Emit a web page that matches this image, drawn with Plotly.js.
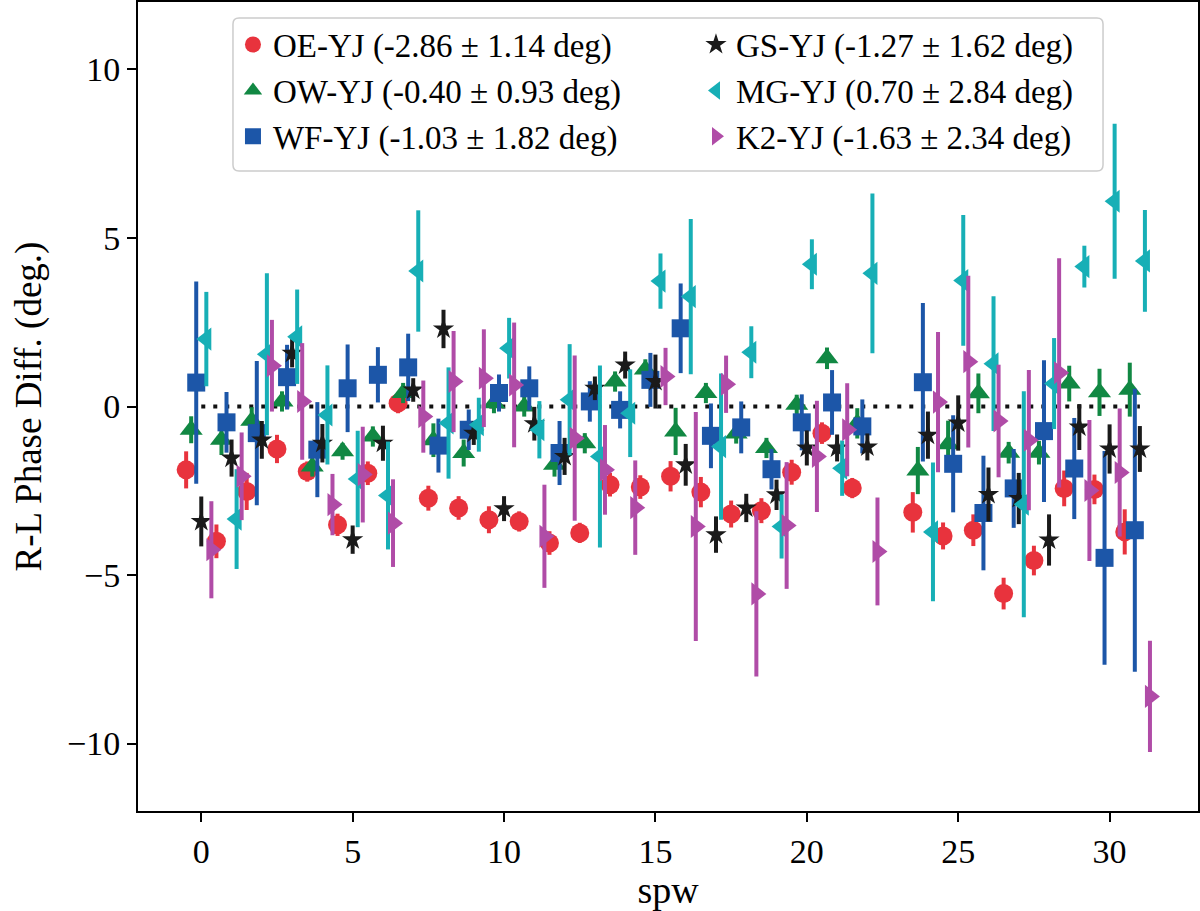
<!DOCTYPE html>
<html>
<head>
<meta charset="utf-8">
<script src="https://cdn.plot.ly/plotly-3.0.1.min.js"></script>
<style>
  html, body { margin: 0; padding: 0; background: #fff; }
  #phase-graph { width: 1200px; height: 911px; }
</style>
</head>
<body>
<div id="phase-graph"></div>
<script>
// spectral windows that have data (spw 23 is missing)
const spw = [0, 1, 2, 3, 4, 5, 6, 7, 8, 9, 10, 11, 12, 13, 14, 15, 16, 17, 18, 19, 20, 21, 22,
  24, 25, 26, 27, 28, 29, 30, 31];

// R-L phase differences (deg) and 1-sigma errors
const oeVals = [-1.88, -4.0, -2.52, -1.26, -1.93, -3.51, -1.98, 0.1, -2.72, -3.01, -3.36, -3.41, -4.05, -3.75, -2.32, -2.39,
  -2.07, -2.54, -3.19, -3.09, -1.95, -0.79, -2.42, -3.14, -3.84, -3.67, -5.55, -4.57, -2.43, -2.46, -3.72];
const oeErrs = [0.55, 0.5, 0.55, 0.42, 0.3, 0.33, 0.35, 0.3, 0.37, 0.35, 0.4, 0.3, 0.35, 0.3, 0.35, 0.35,
  0.45, 0.45, 0.4, 0.37, 0.37, 0.32, 0.3, 0.6, 0.4, 0.47, 0.47, 0.44, 0.53, 0.44, 0.67];

const owVals = [-0.69, -0.99, -0.42, 0.15, -1.78, -1.33, -0.89, 0.4, -1.0, -1.38, 0.1, 0.0, -1.73, -1.09, 0.74, 1.1,
  -0.74, 0.4, -0.8, -1.23, 0.05, 1.43, -0.5, -1.9, -1.12, 0.39, -1.37, -1.37, 0.68, 0.42, 0.5];
const owErrs = [0.4, 0.45, 0.4, 0.3, 0.3, 0.25, 0.3, 0.3, 0.5, 0.4, 0.3, 0.3, 0.35, 0.3, 0.3, 0.3,
  0.7, 0.3, 0.3, 0.3, 0.3, 0.32, 0.45, 0.7, 0.7, 0.59, 0.32, 0.35, 0.53, 0.7, 0.8];

const wfVals = [0.71, -0.47, -0.79, 0.87, -1.28, 0.54, 0.94, 1.16, -1.16, -0.69, 0.4, 0.54, -1.38, 0.15, -0.1, 0.79,
  2.32, -0.87, -0.62, -1.86, -0.47, 0.12, -0.59, 0.72, -1.7, -3.16, -2.43, -0.73, -1.84, -4.49, -3.67];
const wfErrs = [3.0, 0.9, 2.14, 0.96, 1.41, 1.3, 0.82, 1.0, 0.8, 0.6, 0.55, 0.65, 0.95, 0.6, 0.55, 0.8,
  1.33, 0.96, 0.77, 0.6, 0.83, 0.96, 0.8, 2.35, 1.44, 1.7, 1.17, 2.1, 1.5, 3.17, 4.2];

const gsVals = [-3.41, -1.53, -0.99, 1.58, -1.09, -3.95, -1.09, 0.49, 2.3, -0.79, -3.03, -0.51, -1.48, 0.54, 1.23, 0.74,
  -1.73, -3.8, -3.01, -2.62, -1.23, -1.23, -1.2, -0.85, -0.49, -2.61, -2.73, -3.96, -0.61, -1.26, -1.26];
const gsErrs = [0.74, 0.55, 0.56, 0.42, 0.57, 0.42, 0.52, 0.35, 0.57, 0.35, 0.37, 0.5, 0.55, 0.35, 0.4, 0.8,
  0.62, 0.54, 0.42, 0.45, 0.52, 0.4, 0.4, 0.7, 0.82, 0.8, 0.76, 0.76, 0.68, 0.73, 0.68];

const mgVals = [2.0, -3.34, 1.55, 2.07, -0.25, -2.15, -2.64, 4.02, -0.49, -0.54, 1.73, -0.69, 0.2, -1.48, -0.2, 3.72,
  3.26, -1.19, 1.61, -3.56, 4.22, -1.83, 3.95, -3.72, 3.74, 1.27, -2.9, 0.68, 4.15, 6.09, 4.32];
const mgErrs = [1.4, 1.48, 2.4, 1.4, 1.47, 1.43, 1.6, 1.8, 1.65, 0.8, 0.9, 0.85, 1.65, 2.7, 1.3, 0.82,
  2.3, 2.17, 0.77, 0.95, 0.74, 0.82, 2.37, 2.06, 1.94, 2.0, 3.35, 1.35, 0.62, 2.3, 1.51];

const k2Vals = [-4.25, -2.07, 1.21, 0.15, -2.91, -2.02, -3.46, -0.3, 0.74, 0.84, 0.64, -3.85, -0.94, -1.88, -3.0, 0.89,
  -3.56, 0.66, -5.56, -3.53, -1.48, -0.69, -4.3, 0.13, 1.33, -0.43, -1.0, 1.0, -2.49, -1.96, -8.6];
const k2Errs = [1.44, 1.3, 1.36, 1.73, 0.91, 1.42, 1.3, 1.07, 1.5, 1.45, 1.85, 1.53, 2.45, 1.33, 1.4, 0.85,
  3.4, 0.85, 2.45, 1.88, 1.65, 1.38, 1.6, 2.08, 2.55, 1.67, 2.08, 3.4, 2.09, 1.9, 1.65];

const legendText = [
  'OE-YJ (-2.86 ± 1.14 deg)', 'OW-YJ (-0.40 ± 0.93 deg)', 'WF-YJ (-1.03 ± 1.82 deg)',
  'GS-YJ (-1.27 ± 1.62 deg)', 'MG-YJ (0.70 ± 2.84 deg)', 'K2-YJ (-1.63 ± 2.34 deg)',
];

const FONT = '"Liberation Serif", "DejaVu Serif", serif';

// one entry per baseline; dx dodges the points around each spw
const series = [
  {vals: oeVals, errs: oeErrs, dx: -0.5, color: '#e8333d', symbol: 'circle', size: 19, rank: 1},
  {vals: owVals, errs: owErrs, dx: -1 / 3, color: '#118843', symbol: 'triangle-up', size: 20, rank: 3},
  {vals: wfVals, errs: wfErrs, dx: -1 / 6, color: '#1c56a8', symbol: 'square', size: 18, rank: 5},
  {vals: gsVals, errs: gsErrs, dx: 0, color: '#1a1a1a', symbol: 'star', size: 16, rank: 2},
  {vals: mgVals, errs: mgErrs, dx: 1 / 6, color: '#17afb6', symbol: 'triangle-left', size: 20, rank: 4},
  {vals: k2Vals, errs: k2Errs, dx: 1 / 3, color: '#b04ca7', symbol: 'triangle-right', size: 20, rank: 6},
];

const zeroLine = {
  x: [spw[0], spw[spw.length - 1]],
  y: [0, 0],
  mode: 'lines',
  type: 'scatter',
  line: {color: '#111', width: 4, dash: '4px,8px'},
  showlegend: false,
  hoverinfo: 'skip',
};

const traces = series.map((s, i) => ({
  x: spw.map((v) => v + s.dx),
  y: s.vals,
  name: legendText[i],
  legendrank: s.rank,
  mode: 'markers',
  type: 'scatter',
  marker: {color: s.color, symbol: s.symbol, size: s.size, line: {width: 0}},
  error_y: {type: 'data', array: s.errs, visible: true, color: s.color, thickness: 4, width: 0},
}));

const data = [zeroLine, ...traces];

// legend frame drawn as a rounded box (paper coords), the legend itself has no border
function roundedBox(x0, x1, y0, y1, rx, ry) {
  return `M${x0 + rx},${y1} L${x1 - rx},${y1} Q${x1},${y1} ${x1},${y1 - ry} ` +
    `L${x1},${y0 + ry} Q${x1},${y0} ${x1 - rx},${y0} L${x0 + rx},${y0} ` +
    `Q${x0},${y0} ${x0},${y0 + ry} L${x0},${y1 - ry} Q${x0},${y1} ${x0 + rx},${y1} Z`;
}

const axisCommon = {
  showgrid: false,
  zeroline: false,
  showline: true,
  mirror: true,
  linecolor: '#000',
  linewidth: 2,
  ticks: 'outside',
  ticklen: 9,
  tickwidth: 2,
  tickcolor: '#000',
  tickfont: {family: FONT, size: 34, color: '#000'},
};

const layout = {
  width: 1200,
  height: 911,
  margin: {l: 138, r: 2, t: 2, b: 100},
  paper_bgcolor: '#fff',
  plot_bgcolor: '#fff',
  font: {family: FONT, color: '#000'},
  xaxis: {
    ...axisCommon,
    range: [-2.09, 32.92],
    tickvals: [0, 5, 10, 15, 20, 25, 30],
    title: {text: 'spw', font: {family: FONT, size: 38}, standoff: 0},
  },
  yaxis: {
    ...axisCommon,
    range: [-12, 12],
    tickvals: [-10, -5, 0, 5, 10],
    title: {text: 'R-L Phase Diff. (deg.)', font: {family: FONT, size: 37}, standoff: 14},
  },
  shapes: [{
    type: 'path',
    xref: 'paper',
    yref: 'paper',
    layer: 'above',
    path: roundedBox(0.0896, 0.9104, 0.7911, 0.9802, 0.0057, 0.0074),
    fillcolor: 'rgba(255,255,255,0.85)',
    line: {color: '#cccccc', width: 1.5},
  }],
  showlegend: true,
  legend: {
    orientation: 'h',
    x: 0.0896,
    y: 0.982,
    xanchor: 'left',
    yanchor: 'top',
    bgcolor: 'rgba(0,0,0,0)',
    borderwidth: 0,
    font: {family: FONT, size: 33, color: '#000'},
    entrywidth: 418,
    entrywidthmode: 'pixels',
    traceorder: 'normal',
  },
};

Plotly.newPlot('phase-graph', data, layout, {staticPlot: true});
</script>
</body>
</html>
